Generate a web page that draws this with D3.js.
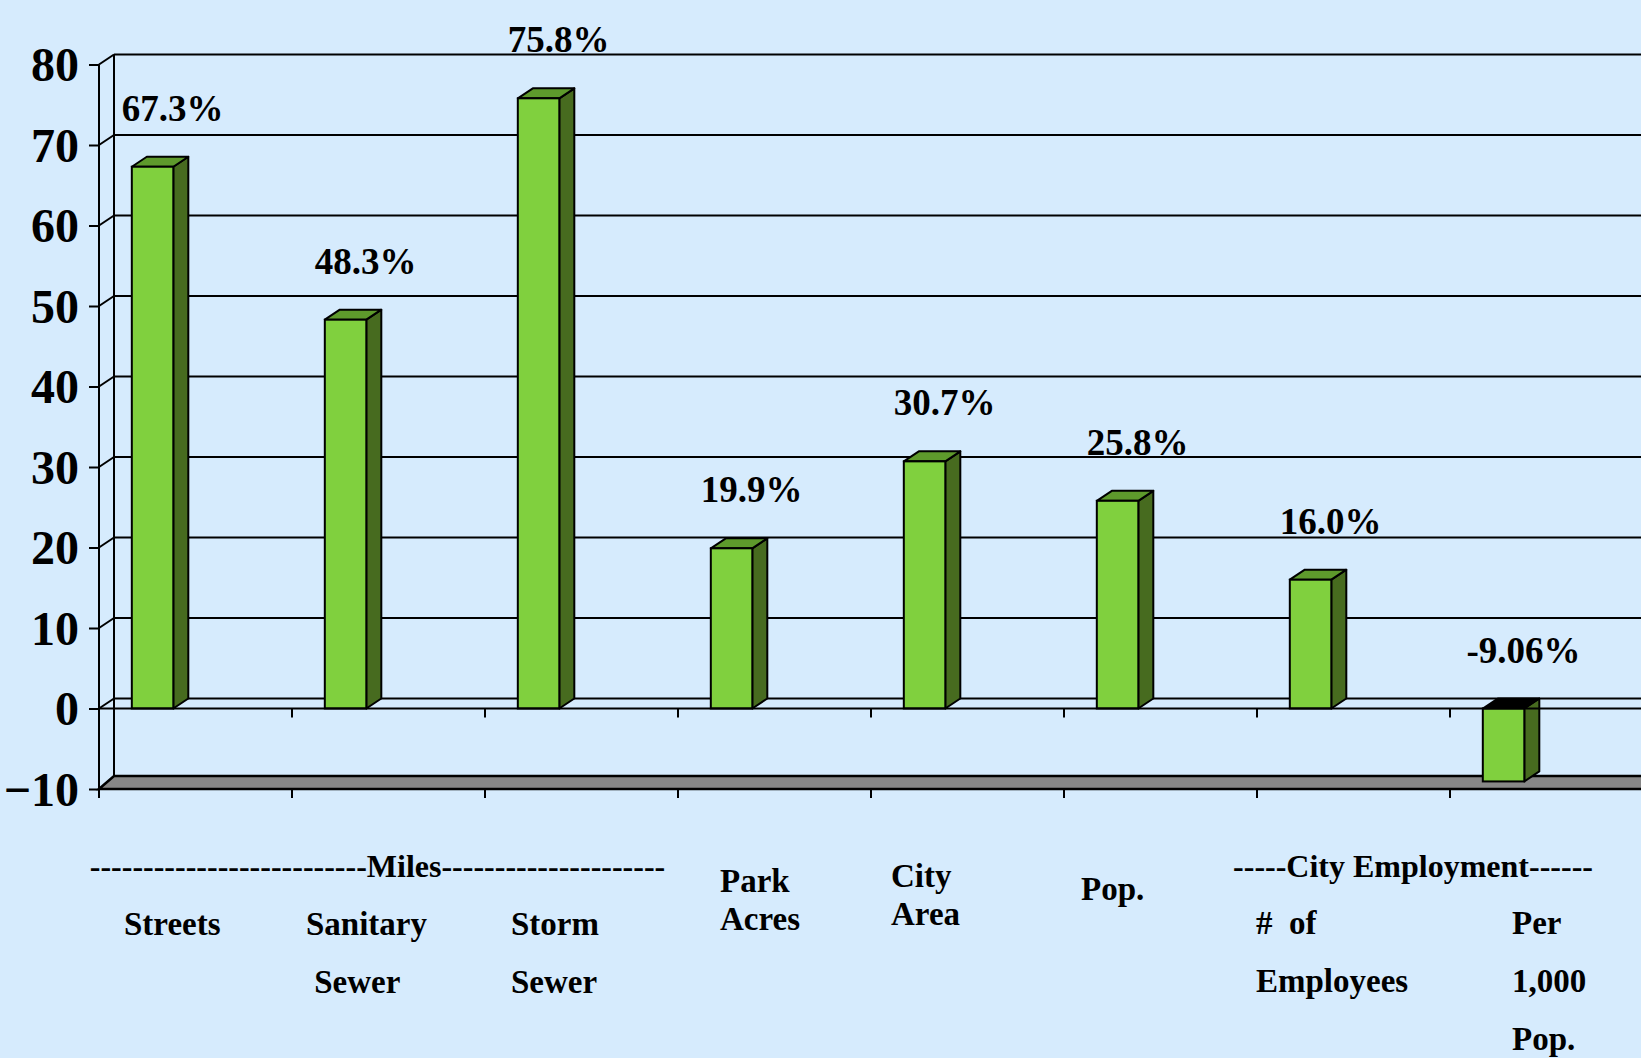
<!DOCTYPE html>
<html>
<head>
<meta charset="utf-8">
<script src="https://cdn.jsdelivr.net/npm/d3@7"></script>
<style>
  html, body { margin: 0; padding: 0; background: #d6ebfd; overflow: hidden; }
  svg { display: block; }
  text { font-family: "Liberation Serif", "Times New Roman", serif; font-weight: bold; fill: #000; }
</style>
</head>
<body>
<svg id="chart"></svg>
<script>
//Chart Data
const categories = ["Streets", "Sanitary Sewer", "Storm Sewer", "Park Acres", "City Area", "Pop.", "# of Employees", "Per 1,000 Pop."];
const values = [67.3, 48.3, 75.8, 19.9, 30.7, 25.8, 16.0, -9.06];
const valueLabels = ["67.3%", "48.3%", "75.8%", "19.9%", "30.7%", "25.8%", "16.0%", "-9.06%"];
const yTicks = [-10, 0, 10, 20, 30, 40, 50, 60, 70, 80];
//Category text lines (as typed on the slide)
const categoryLines = [["Streets"], ["Sanitary", " Sewer"], ["Storm", "Sewer"], ["Park", "Acres"], ["City", "Area"], ["Pop."], ["#  of", "Employees"], ["Per", "1,000", "Pop."]];
const groups = [
  {text: "--------------------------Miles---------------------", from: 0, to: 2},
  {text: "-----City Employment------", from: 6, to: 7}
];

//Layout of the free-standing category texts (offset from band start, first baseline, line gap)
const labelLayout = [
  {dx: 25, y: 935, gap: 58}, {dx: 14, y: 935, gap: 58}, {dx: 26, y: 935, gap: 58},
  {dx: 42, y: 892, gap: 38}, {dx: 20, y: 887, gap: 38}, {dx: 17, y: 900, gap: 58},
  {dx: -1, y: 934, gap: 58}, {dx: 62, y: 934, gap: 58}
];

function drawChart(){
  const w = 1641;
  const h = 1058;
  const left = 99;      //front plane of the value axis
  const depthX = 15;    //3D depth offset
  const depthY = 10;
  const bandW = 193;

  const chart = d3.select("#chart")
    .attr("width", w)
    .attr("height", h);

  //Scale Setup
  const xScale = d3.scaleBand()
    .domain(categories)
    .range([left, left + bandW * categories.length]);
  const yScale = d3.scaleLinear()
    .domain([-10, 80])
    .range([789, 64.5]);

  const barOff = xScale.bandwidth() * 0.17;
  const barW = xScale.bandwidth() * 0.215;
  const right = xScale.range()[1];

  //Back wall gridlines
  chart.append("g")
    .selectAll("line")
    .data(yTicks.filter(t => t > -10))
    .enter()
    .append("line")
    .attr("x1", left + depthX)
    .attr("x2", right + depthX)
    .attr("y1", d => yScale(d) - depthY)
    .attr("y2", d => yScale(d) - depthY)
    .attr("stroke", "#000")
    .attr("stroke-width", 2);

  //Side wall: back edge and diagonals
  chart.append("line")
    .attr("x1", left + depthX).attr("x2", left + depthX)
    .attr("y1", yScale(80) - depthY).attr("y2", yScale(-10) - depthY)
    .attr("stroke", "#000").attr("stroke-width", 2);

  chart.append("g")
    .selectAll("line")
    .data(yTicks)
    .enter()
    .append("line")
    .attr("x1", left)
    .attr("x2", left + depthX)
    .attr("y1", d => yScale(d))
    .attr("y2", d => yScale(d) - depthY)
    .attr("stroke", "#000")
    .attr("stroke-width", 2);

  //Floor slab at -10
  const yf = yScale(-10);
  chart.append("path")
    .attr("d", `M${left},${yf} L${left + depthX},${yf - depthY - 3} L${right + depthX},${yf - depthY - 3} L${right},${yf} Z`)
    .attr("fill", "#878787")
    .attr("stroke", "#000")
    .attr("stroke-width", 2.5);

  //Bars (front, top, side)
  const bars = chart.append("g")
    .selectAll("g")
    .data(categories)
    .enter()
    .append("g");

  const x0 = (d) => xScale(d) + barOff;
  const yTop = (d, i) => yScale(Math.max(values[i], 0));
  const yBot = (d, i) => yScale(Math.min(values[i], 0));

  bars.append("path")
    .attr("d", (d, i) => {
      const a = x0(d), b = a + barW, t = yTop(d, i), u = yBot(d, i);
      return `M${b},${t} L${b + depthX},${t - depthY} L${b + depthX},${u - depthY} L${b},${u} Z`;
    })
    .attr("fill", "#476b1f")
    .attr("stroke", "#000")
    .attr("stroke-width", 2)
    .attr("stroke-linejoin", "round");

  bars.append("path")
    .attr("d", (d, i) => {
      const a = x0(d), b = a + barW, t = yTop(d, i);
      return `M${a},${t} L${a + depthX},${t - depthY} L${b + depthX},${t - depthY} L${b},${t} Z`;
    })
    .attr("fill", (d, i) => values[i] < 0 ? "#000" : "#5e9a2c")
    .attr("stroke", "#000")
    .attr("stroke-width", 2)
    .attr("stroke-linejoin", "round");

  bars.append("rect")
    .attr("x", d => x0(d))
    .attr("y", (d, i) => yTop(d, i))
    .attr("width", barW)
    .attr("height", (d, i) => yBot(d, i) - yTop(d, i))
    .attr("fill", "#80d03e")
    .attr("stroke", "#000")
    .attr("stroke-width", 2);

  //Axis Setup
  const yAxis = d3.axisLeft(yScale)
    .tickValues(yTicks)
    .tickSize(10)
    .tickPadding(10)
    .tickFormat(d3.format("d"));
  const yG = chart.append("g")
    .attr("transform", "translate(" + left + ", 0)")
    .call(yAxis);
  yG.select(".domain").remove();
  yG.selectAll(".tick line").attr("stroke", "#000").attr("stroke-width", 2);
  yG.selectAll(".tick text")
    .style("font-family", "'Liberation Serif', 'Times New Roman', serif")
    .style("font-weight", "bold")
    .style("font-size", "48px")
    .attr("dy", "0.34em");
  chart.append("line")
    .attr("x1", left).attr("x2", left)
    .attr("y1", yScale(80)).attr("y2", yScale(-10) + 9)
    .attr("stroke", "#000").attr("stroke-width", 2);

  //Category axis at 0 and at the floor, ticks between bands
  const bounds = categories.map(c => xScale(c)).concat([right]);
  [0, -10].forEach(v => {
    const y = yScale(v);
    chart.append("line")
      .attr("x1", left).attr("x2", right)
      .attr("y1", y).attr("y2", y)
      .attr("stroke", "#000").attr("stroke-width", 2);
    chart.append("g")
      .selectAll("line")
      .data(bounds.slice(1))
      .enter()
      .append("line")
      .attr("x1", d => d).attr("x2", d => d)
      .attr("y1", y).attr("y2", y + 9)
      .attr("stroke", "#000").attr("stroke-width", 2);
  });

  //Value labels
  chart.append("g")
    .selectAll("text")
    .data(valueLabels)
    .enter()
    .append("text")
    .attr("x", (d, i) => x0(categories[i]) + barW / 2 + 20)
    .attr("y", (d, i) => yTop(categories[i], i) - depthY - 36)
    .attr("text-anchor", "middle")
    .style("font-size", "37px")
    .text(d => d);

  //Category labels
  const catG = chart.append("g");
  categoryLines.forEach((lines, i) => {
    const lay = labelLayout[i];
    lines.forEach((line, j) => {
      catG.append("text")
        .attr("x", xScale(categories[i]) + lay.dx)
        .attr("y", lay.y + j * lay.gap)
        .style("font-size", "33px")
        .style("white-space", "pre")
        .attr("xml:space", "preserve")
        .text(line);
    });
  });

  //Group headers
  chart.append("g")
    .selectAll("text")
    .data(groups)
    .enter()
    .append("text")
    .attr("x", d => (xScale(categories[d.from]) + xScale(categories[d.to]) + bandW) / 2 - (d.from === 0 ? 11 : 37))
    .attr("y", 877)
    .attr("text-anchor", "middle")
    .style("font-size", "32px")
    .text(d => d.text);
}
drawChart();
</script>
</body>
</html>
